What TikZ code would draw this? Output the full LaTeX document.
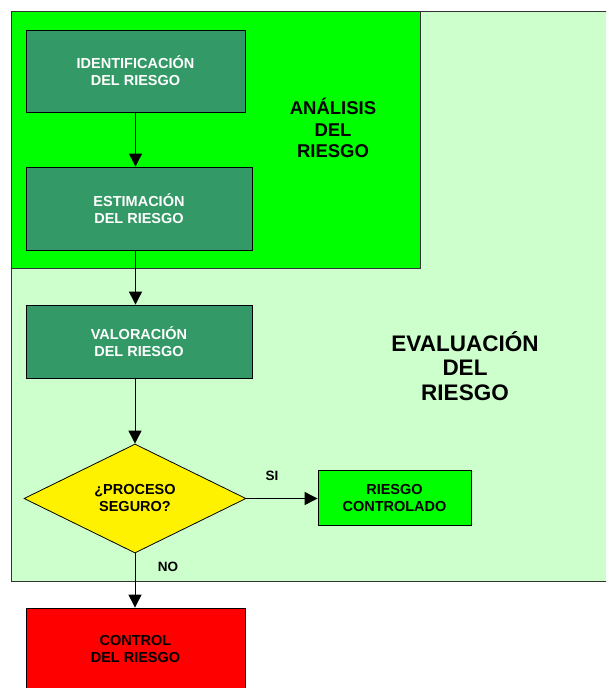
\documentclass[tikz,border=0pt]{standalone}
\usepackage{fontspec}
\setmainfont{Liberation Sans}
\usetikzlibrary{shapes.geometric,arrows.meta}
\definecolor{evalfill}{HTML}{CCFFCC}
\definecolor{anafill}{HTML}{00FF00}
\definecolor{etapafill}{HTML}{339966}
\definecolor{marco}{HTML}{333333}
\tikzset{
  etapa/.style={draw=black, fill=etapafill, text=white, align=center, inner sep=0pt,
    line width=0.8pt, font=\fontsize{14.5}{17}\selectfont\bfseries},
  flecha/.style={-{Triangle[width=13pt,length=13pt]}, line width=0.9pt},
  rotulo/.style={align=center, font=\fontsize{13.5}{16}\selectfont\bfseries}
}
\begin{document}
\begin{tikzpicture}[x=1pt, y=-1pt]
  \clip (0,0) rectangle (606,688);
  \fill[white] (0,0) rectangle (606,688);

  % Zonas de evaluacion y analisis
  \draw[marco, fill=evalfill, line width=0.8pt] (11,11) rectangle (640,581);
  \draw[marco, fill=anafill, line width=0.8pt] (11,11) rectangle (420,268);
  \node[align=center, font=\fontsize{18.5}{21.5}\selectfont\bfseries] (analisis) at (333,128) {ANÁLISIS\\DEL\\RIESGO};
  \node[align=center, font=\fontsize{22.5}{24.5}\selectfont\bfseries] (evaluacion) at (465,366) {EVALUACIÓN\\DEL\\RIESGO};

  % Etapas
  \node[etapa, minimum width=219pt, minimum height=82pt] (ident) at (135.5,71) {IDENTIFICACIÓN\\DEL RIESGO};
  \node[etapa, minimum width=226pt, minimum height=83pt] (estim) at (139,208.5) {ESTIMACIÓN\\DEL RIESGO};
  \node[etapa, minimum width=226pt, minimum height=73pt] (valor) at (139,341.5) {VALORACIÓN\\DEL RIESGO};

  % Decision
  \node[diamond, draw=black, fill=yellow, line width=0.8pt, inner sep=0pt,
        minimum width=222pt, minimum height=109pt, align=center,
        font=\fontsize{14.5}{17}\selectfont\bfseries] (seguro) at (135,498.5) {¿PROCESO\\SEGURO?};
  \node[draw=black, fill=anafill, line width=0.8pt, inner sep=0pt, align=center,
        minimum width=153pt, minimum height=55pt,
        font=\fontsize{14.5}{17}\selectfont\bfseries] (controlado) at (394.5,498) {RIESGO\\CONTROLADO};
  \node[draw=black, fill=red, line width=0.8pt, inner sep=0pt, align=center,
        minimum width=219pt, minimum height=82pt,
        font=\fontsize{14.5}{17}\selectfont\bfseries] (control) at (135.5,649) {CONTROL\\DEL RIESGO};

  % Conectores
  \draw[flecha] (ident.south) -- (ident.south |- estim.north);
  \draw[flecha] (estim.south -| ident.south) -- (ident.south |- valor.north);
  \draw[flecha] (valor.south -| seguro.north) -- (seguro.north);
  \draw[flecha] (seguro.east) -- (seguro.east -| controlado.west);
  \draw[flecha] (seguro.south) -- (seguro.south |- control.north);
  \node[rotulo] (si) at (272,476) {SI};
  \node[rotulo] (no) at (168,567) {NO};
\end{tikzpicture}
\end{document}
